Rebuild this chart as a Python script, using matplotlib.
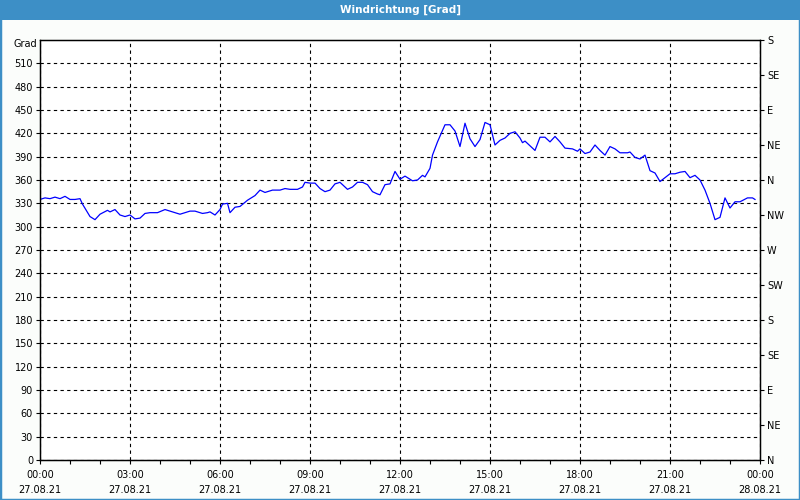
import matplotlib
matplotlib.use("Agg")
import matplotlib.pyplot as plt
from matplotlib.patches import Rectangle
import numpy as np

plt.rcParams['font.family'] = 'DejaVu Sans'

# wind direction, minutes after 27.08.21 00:00 and degrees
minutes = [0, 10, 20, 30, 40, 50, 60, 70, 80, 85, 100, 110, 120, 135, 140, 150,
           160, 170, 180, 190, 200, 210, 220, 235, 250, 265, 280, 300, 310, 325,
           335, 340, 350, 360, 365, 375, 380, 390, 400, 415, 430, 440, 450, 465,
           480, 490, 500, 515, 525, 530, 540, 550, 560, 570, 580, 590, 600, 615,
           625, 635, 645, 655, 665, 675, 680, 690, 700, 710, 720, 730, 745, 755,
           765, 770, 780, 785, 795, 810, 820, 830, 840, 850, 860, 870, 880, 890,
           900, 910, 920, 930, 940, 950, 960, 965, 970, 990, 1000, 1010, 1020,
           1030, 1040, 1050, 1065, 1075, 1080, 1090, 1100, 1110, 1120, 1130,
           1140, 1150, 1160, 1175, 1180, 1190, 1200, 1210, 1220, 1230, 1240,
           1250, 1260, 1270, 1280, 1290, 1300, 1310, 1320, 1330, 1340, 1350,
           1360, 1370, 1380, 1390, 1400, 1415, 1425, 1430]
degrees = [335, 337, 336, 338, 336, 339, 335, 335, 336, 329, 313, 309, 316, 321,
           319, 322, 315, 313, 315, 310, 311, 317, 318, 318, 322, 319, 316, 320,
           320, 317, 318, 319, 315, 322, 329, 330, 318, 325, 326, 334, 340, 347,
           344, 347, 347, 349, 348, 348, 351, 357, 356, 356, 349, 345, 347, 355,
           357, 348, 351, 357, 357, 354, 345, 342, 341, 354, 355, 371, 361, 365,
           359, 360, 366, 364, 375, 392, 409, 431, 431, 423, 403, 433, 413, 403,
           412, 434, 431, 405, 411, 414, 420, 422, 414, 408, 410, 398, 415, 415,
           409, 416, 409, 401, 400, 397, 400, 394, 396, 405, 398, 392, 403, 400,
           395, 395, 396, 389, 387, 392, 372, 369, 358, 363, 368, 368, 370, 371,
           363, 366, 360, 347, 330, 309, 312, 337, 324, 332, 332, 337, 337, 335]

hour_ticks = [0, 3, 6, 9, 12, 15, 18, 21, 24]
hour_labels = ['00:00\n27.08.21', '03:00\n27.08.21', '06:00\n27.08.21',
               '09:00\n27.08.21', '12:00\n27.08.21', '15:00\n27.08.21',
               '18:00\n27.08.21', '21:00\n27.08.21', '00:00\n28.08.21']
compass = ['N', 'NE', 'E', 'SE', 'S', 'SW', 'W', 'NW', 'N', 'NE', 'E', 'SE', 'S']

blue = '#3d8fc6'
fig = plt.figure(figsize=(8, 5), dpi=100, facecolor='#fbfdfb')
fig.patches.append(Rectangle((0, 0), 1, 1, transform=fig.transFigure,
                             fill=False, ec=blue, lw=2.5))
fig.patches.append(Rectangle((0, 0.96), 1, 0.04, transform=fig.transFigure,
                             fc=blue, ec='none'))
fig.text(0.5, 0.98, 'Windrichtung [Grad]', color='white', fontsize=7.5,
         ha='center', va='center', fontweight='bold')

ax = fig.add_axes([0.05, 0.08, 0.90, 0.84])
ax.set_facecolor('white')
hours = np.array(minutes) / 60.0
ax.plot(hours, degrees, color='#0000ff', lw=0.9)

ax.set_xlim(0, 24)
ax.set_ylim(0, 540)
ax.set_yticks(range(0, 511, 30))
ax.set_xticks(hour_ticks)
ax.set_xticklabels(hour_labels, linespacing=1.7)
ax.set_xticks(range(25), minor=True)
ax.tick_params(axis='both', labelsize=7, length=3, width=0.8, direction='out', pad=2)
ax.tick_params(axis='x', which='minor', length=3, width=0.8)
ax.tick_params(axis='x', pad=4)
ax.grid(True, color='black', ls=(0, (3, 3)), lw=0.8)
for s in ax.spines.values():
    s.set_linewidth(1.0)

ax2 = ax.twinx()
ax2.set_ylim(0, 540)
ax2.set_yticks(np.arange(0, 541, 45))
ax2.set_yticklabels(compass)
ax2.tick_params(axis='y', labelsize=7, length=3, width=0.8, direction='out', pad=2)

fig.text(0.047, 1 - 44 / 500, 'Grad', fontsize=7, ha='right', va='center')

fig.savefig('out.png', dpi=100, facecolor=fig.get_facecolor())
